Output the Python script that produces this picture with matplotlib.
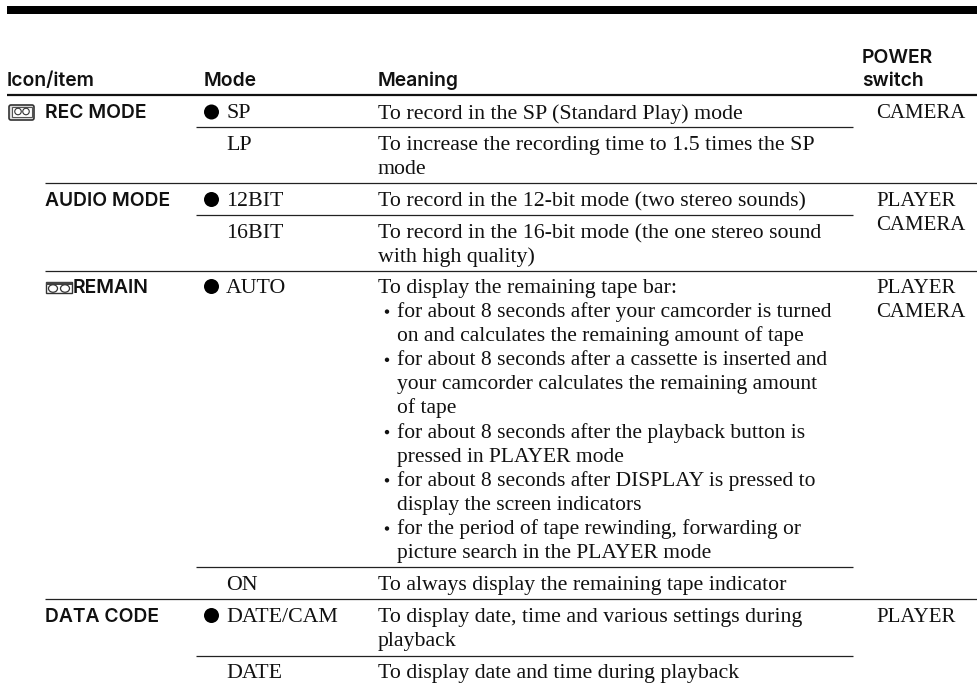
import matplotlib
matplotlib.use('Agg')
import matplotlib.pyplot as plt
from matplotlib.patches import Rectangle, Circle, Ellipse, FancyBboxPatch

# column content, one list per column
headers = ['Icon/item', 'Mode', 'Meaning']
power_header = ['POWER', 'switch']
items = ['REC MODE', 'AUDIO MODE', 'REMAIN', 'DATA CODE']
modes = ['SP', 'LP', '12BIT', '16BIT', 'AUTO', 'ON', 'DATE/CAM', 'DATE']
default_mode = [True, False, True, False, True, False, True, False]
# '*' marks a bullet line, '_' its continuation
meanings = [
    ['To record in the SP (Standard Play) mode'],
    ['To increase the recording time to 1.5 times the SP', 'mode'],
    ['To record in the 12-bit mode (two stereo sounds)'],
    ['To record in the 16-bit mode (the one stereo sound', 'with high quality)'],
    ['To display the remaining tape bar:',
     '*for about 8 seconds after your camcorder is turned',
     '_on and calculates the remaining amount of tape',
     '*for about 8 seconds after a cassette is inserted and',
     '_your camcorder calculates the remaining amount',
     '_of tape',
     '*for about 8 seconds after the playback button is',
     '_pressed in PLAYER mode',
     '*for about 8 seconds after DISPLAY is pressed to',
     '_display the screen indicators',
     '*for the period of tape rewinding, forwarding or',
     '_picture search in the PLAYER mode'],
    ['To always display the remaining tape indicator'],
    ['To display date, time and various settings during', 'playback'],
    ['To display date and time during playback'],
]
power = [['CAMERA'], ['PLAYER', 'CAMERA'], ['PLAYER', 'CAMERA'], ['PLAYER']]

# baselines in pixels
row_base = [118.5, 150, 206, 238, 293, 590, 622, 678]
item_base = [118.5, 206, 293, 622]
line_h = 24.1
short_rules = [126.5, 215, 566.7, 655.7]
long_rules = [182.7, 270.7, 599.3]

sans = 'Inter'
serif = 'Liberation Serif'
fs_sans = 13.9
fs_serif = 15.75
ink = '#111111'

fig = plt.figure(figsize=(9.78, 6.87), dpi=100)
ax = fig.add_axes([0, 0, 1, 1])
ax.set_xlim(0, 978)
ax.set_ylim(687, 0)
ax.axis('off')

ax.add_patch(Rectangle((7, 5.5), 971, 8, color='black', lw=0))
ax.plot([7, 978], [94.5, 94.5], color=ink, lw=1.6, solid_capstyle='butt')
for y in short_rules:
    ax.plot([196, 853], [y, y], color='#222222', lw=0.9, solid_capstyle='butt')
for y in long_rules:
    ax.plot([45, 978], [y, y], color='#222222', lw=0.9, solid_capstyle='butt')


def sans_text(x, y, s):
    ax.text(x, y, s, family=sans, weight='semibold', fontsize=fs_sans, va='baseline', color=ink)


def serif_text(x, y, s, size=fs_serif):
    ax.text(x, y, s, family=serif, fontsize=size, va='baseline', color=ink)


for x, h in zip([7, 204, 378], headers):
    sans_text(x, 86, h)
sans_text(862, 63, power_header[0])
sans_text(862, 86, power_header[1])

for name, y in zip(items, item_base):
    sans_text(73 if name == 'REMAIN' else 45, y, name)

for m, d, y, lines in zip(modes, default_mode, row_base, meanings):
    serif_text(226, y, m)
    if d:
        ax.add_patch(Circle((211.5, y - 6.5), 7.5, color='black', lw=0))
    for i, line in enumerate(lines):
        ly = y + i * line_h
        if line[0] == '*':
            ax.add_patch(Circle((387, ly - 5.5), 2.2, color=ink, lw=0))
            serif_text(397, ly, line[1:], 15.5)
        elif line[0] == '_':
            serif_text(397, ly, line[1:], 15.5)
        else:
            serif_text(378, ly, line)

for lines, y in zip(power, item_base):
    for i, line in enumerate(lines):
        serif_text(876.5, y + i * 24, line, 15)

# cassette icon next to REC MODE
ax.add_patch(FancyBboxPatch((9, 105), 25, 15, boxstyle='round,pad=0,rounding_size=2',
                            fc='#dddddd', ec='#333333', lw=1.2))
ax.add_patch(Rectangle((11.5, 106.5), 20, 10.5, fc='white', ec='#555555', lw=0.8))
for cx in [18, 26]:
    ax.add_patch(Ellipse((cx, 111.5), 6.5, 6.5, fc='white', ec='#333333', lw=0.8))

# tape symbol in front of REMAIN
ax.add_patch(Rectangle((46, 282), 26, 11, fc='white', ec='#333333', lw=1.0))
ax.add_patch(Rectangle((46, 282), 26, 2.5, fc='#444444', lw=0))
for cx in [53, 65]:
    ax.add_patch(Ellipse((cx, 288.5), 9, 7.5, fc='white', ec='#333333', lw=0.9))

fig.savefig('out.png', dpi=100)
